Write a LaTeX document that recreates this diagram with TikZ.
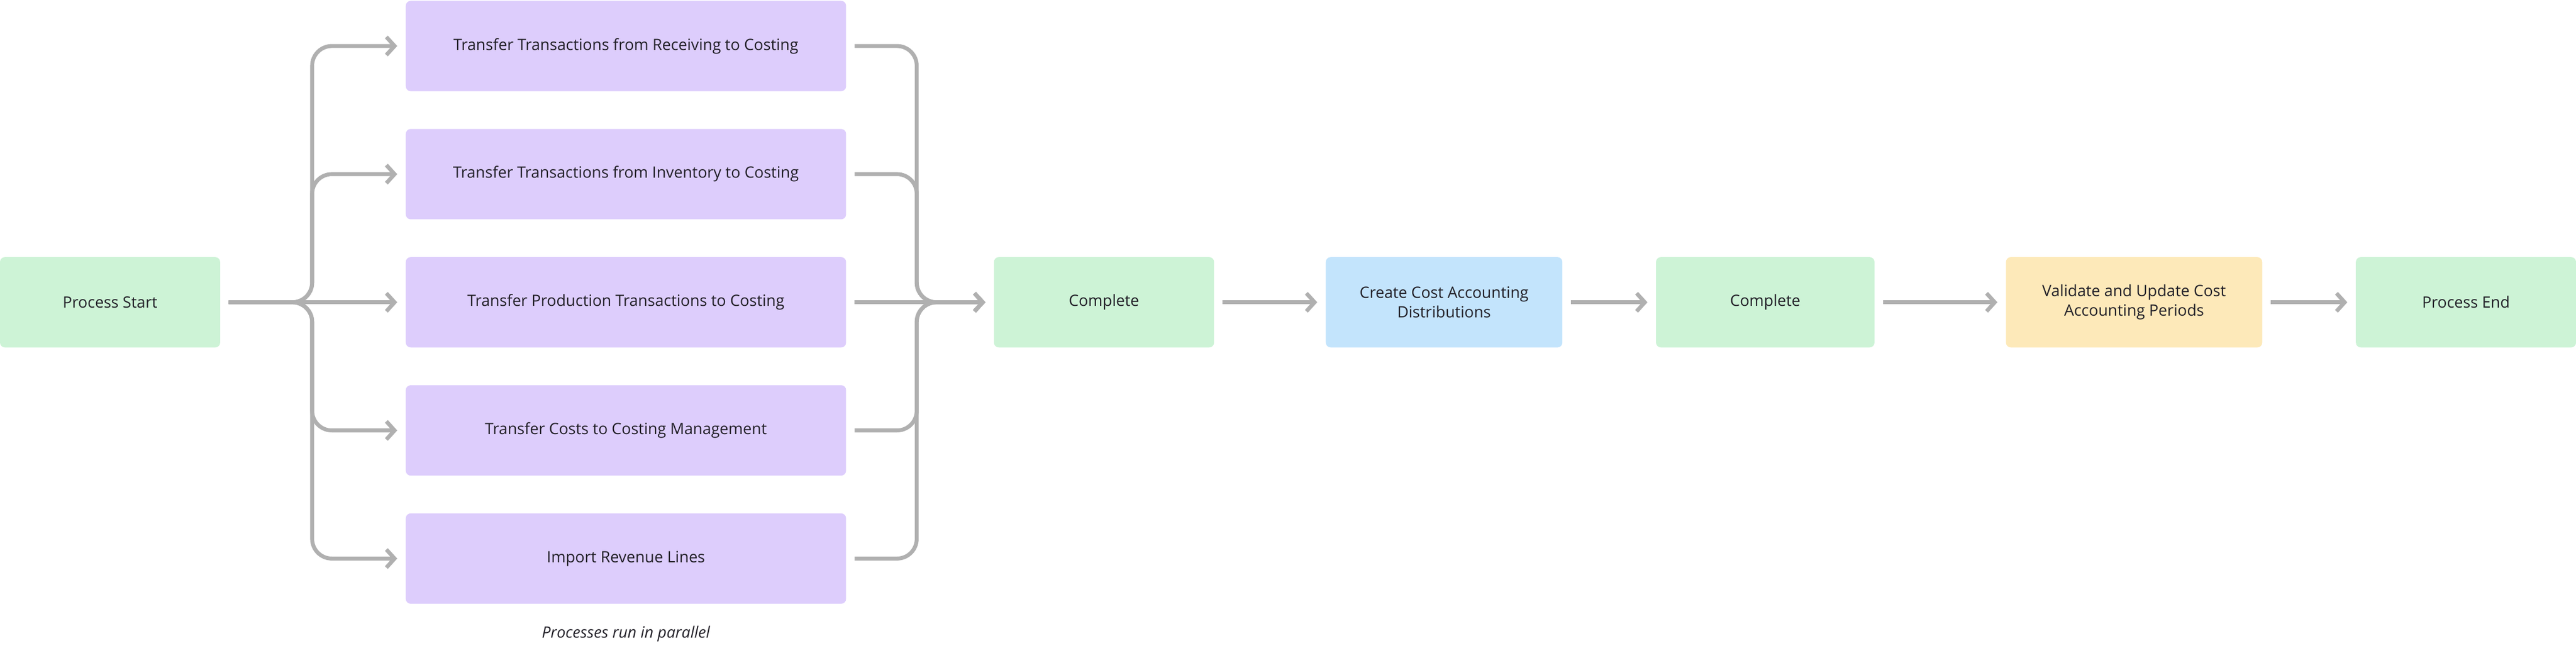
\documentclass[tikz,border=0pt]{standalone}
\usepackage{fontspec}
\setmainfont{Open Sans}
\usetikzlibrary{positioning,arrows.meta}
\definecolor{stepgreen}{HTML}{CDF3D6}
\definecolor{steppurple}{HTML}{DDCDFC}
\definecolor{stepblue}{HTML}{C3E4FC}
\definecolor{stepyellow}{HTML}{FDE9B9}
\definecolor{linegray}{HTML}{B0B0B0}
\definecolor{txt}{HTML}{222028}
\tikzset{
  box/.style={rounded corners=3pt,minimum height=55pt,align=center,text=txt,font=\fontsize{9.5}{12}\selectfont,inner sep=0pt},
}
\begin{document}
\begin{tikzpicture}[
    x=1pt,y=1pt,
    flow/.style={line width=2.4pt,draw=linegray,->,>={Straight Barb[length=5pt,width=11pt]},rounded corners=12pt,shorten >=5pt,shorten <=5pt}
    ]
    \useasboundingbox (0,0) rectangle (1568,-394.4);
    \node[box,fill=stepgreen,minimum width=134pt] (ps) at (67,-184) {Process Start};
    \node[box,fill=steppurple,minimum width=268pt] (t1) at (381,-28) {Transfer Transactions from Receiving to Costing};
    \node[box,fill=steppurple,minimum width=268pt] (t2) at (381,-106) {Transfer Transactions from Inventory to Costing};
    \node[box,fill=steppurple,minimum width=268pt] (t3) at (381,-184) {Transfer Production Transactions to Costing};
    \node[box,fill=steppurple,minimum width=268pt] (t4) at (381,-262) {Transfer Costs to Costing Management};
    \node[box,fill=steppurple,minimum width=268pt] (t5) at (381,-340) {Import Revenue Lines};
    \node[font=\itshape\fontsize{9.5}{12}\selectfont,text=txt] (cap) at (381,-386) {Processes run in parallel};
    \node[box,fill=stepgreen,minimum width=134pt] (c1) at (672,-184) {Complete};
    \node[box,fill=stepblue,minimum width=144pt] (cd) at (879,-184) {Create Cost Accounting\\Distributions};
    \node[box,fill=stepgreen,minimum width=133pt] (c2) at (1074.5,-184) {Complete};
    \node[box,fill=stepyellow,minimum width=156pt] (vu) at (1299,-184) {Validate and Update Cost\\Accounting Periods};
    \node[box,fill=stepgreen,minimum width=134pt] (pe) at (1501,-184) {Process End};
    % fork
    \foreach \t in {t1,t2,t4,t5}
      \draw[flow] (ps.east) -- (190,-184) |- (\t.west);
    \draw[flow] (ps.east) -- (t3.west);
    % merge
    \foreach \t in {t1,t2,t4,t5}
      \draw[flow] (\t.east) -| (558,-184) -- (c1.west);
    \draw[flow] (t3.east) -- (c1.west);
    % chain
    \draw[flow] (c1.east) -- (cd.west);
    \draw[flow] (cd.east) -- (c2.west);
    \draw[flow] (c2.east) -- (vu.west);
    \draw[flow] (vu.east) -- (pe.west);
  \end{tikzpicture}
\end{document}
